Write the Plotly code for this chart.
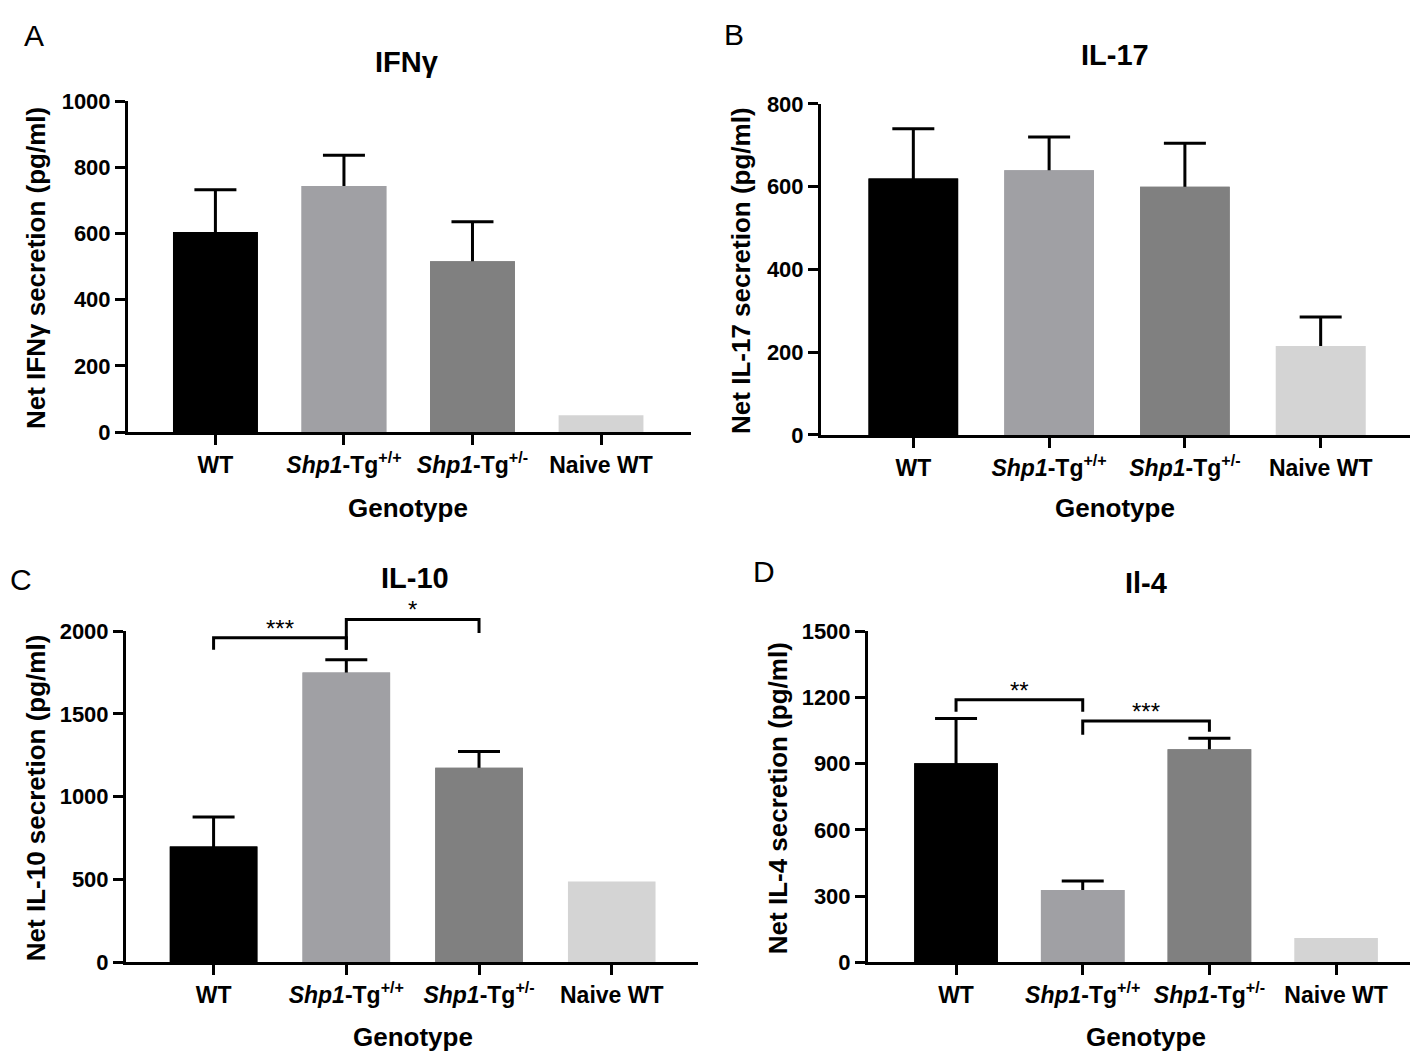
import plotly.graph_objects as go

W, H = 1418, 1060

categories = ["WT", "Shp1-Tg+/+", "Shp1-Tg+/-", "Naive WT"]
tick_labels = ["WT", "<i>Shp1</i>-Tg<sup>+/+</sup>", "<i>Shp1</i>-Tg<sup>+/-</sup>", "Naive WT"]
bar_colors = ["#000000", "#a0a0a4", "#808080", "#d4d4d4"]

ifng_mean = [604, 743, 516, 51]
ifng_sem = [128, 93, 119, None]

il17_mean = [620, 640, 600, 215]
il17_sem = [120, 80, 105, 70]

il10_mean = [700, 1750, 1175, 488]
il10_sem = [178, 77, 98, None]

il4_mean = [902, 327, 965, 110]
il4_sem = [203, 41, 50, None]

# significance brackets: (from index, to index, bracket height, leg end at from, leg end at to, label)
il10_sig = [(0, 1, 1960, 1888, 1888, "***"), (1, 2, 2071, 1888, 1990, "*")]
il4_sig = [(0, 1, 1190, 1135, 1135, "**"), (1, 2, 1093, 1031, 1044, "***")]

FONT = "Liberation Sans, Arial, sans-serif"

panels = [
    dict(letter="A", title="IFN\u03b3", ytitle="Net IFN\u03b3 secretion (pg/ml)", mean=ifng_mean, sem=ifng_sem,
         yrange=[0, 1000], dtick=200, px=(120, 683), py=(422, 83), xr=[-0.68, 3.70], sig=[],
         letter_xy=(26, 16), title_xy=(399, 43), ytitle_xy=(28, 254), gen_xy=(400, 500)),
    dict(letter="B", title="IL-17", ytitle="Net IL-17 secretion (pg/ml)", mean=il17_mean, sem=il17_sem,
         yrange=[0, 800], dtick=200, px=(813, 1405), py=(425, 86), xr=[-0.68, 3.68], sig=[],
         letter_xy=(726, 15), title_xy=(1107, 36), ytitle_xy=(733, 257), gen_xy=(1107, 500)),
    dict(letter="C", title="IL-10", ytitle="Net IL-10 secretion (pg/ml)", mean=il10_mean, sem=il10_sem,
         yrange=[0, 2000], dtick=500, px=(118, 690), py=(965, 626), xr=[-0.66, 3.65], sig=il10_sig,
         letter_xy=(13, 573), title_xy=(407, 571), ytitle_xy=(28, 797), gen_xy=(405, 1042)),
    dict(letter="D", title="Il-4", ytitle="Net IL-4 secretion (pg/ml)", mean=il4_mean, sem=il4_sem,
         yrange=[0, 1500], dtick=300, px=(860, 1415), py=(965, 626), xr=[-0.695, 3.686], sig=il4_sig,
         letter_xy=(756, 565), title_xy=(1138, 577), ytitle_xy=(770, 797), gen_xy=(1138, 1042)),
]

fig = go.Figure()
annotations = []
layout = {}
EXT_PX = 60  # extra headroom (px) for significance brackets above the axis top

for k, p in enumerate(panels):
    n = "" if k == 0 else str(k + 1)
    xa, ya = "x" + n, "y" + n
    xdom = [p["px"][0] / W, p["px"][1] / W]
    ydom = [1 - p["py"][0] / H, 1 - p["py"][1] / H]
    axis_common = dict(showline=True, linecolor="black", linewidth=3, ticks="outside", ticklen=10,
                       tickwidth=3, tickcolor="black", showgrid=False, zeroline=False)
    layout["xaxis" + n] = dict(
        domain=xdom, anchor=ya, type="category", range=p["xr"],
        categoryorder="array", categoryarray=categories,
        tickmode="array", tickvals=categories, ticktext=tick_labels,
        tickfont=dict(family=FONT, size=23, color="black", weight="bold"), **axis_common,
    )
    layout["yaxis" + n] = dict(
        domain=ydom, anchor=xa, range=p["yrange"], dtick=p["dtick"], tick0=0,
        tickfont=dict(family=FONT, size=22, color="black", weight="bold"), **axis_common,
    )
    sem = p["sem"]
    mean = p["mean"]
    err_idx = [i for i, s in enumerate(sem) if s is not None]
    # bars carrying the error bars (stem runs down to the baseline, hidden by the covering bars)
    fig.add_trace(go.Bar(
        x=[categories[i] for i in err_idx], y=[mean[i] for i in err_idx], xaxis=xa, yaxis=ya, width=0.66,
        marker=dict(color=[bar_colors[i] for i in err_idx], line=dict(width=0)),
        error_y=dict(type="data", symmetric=False, array=[sem[i] for i in err_idx],
                     arrayminus=[mean[i] for i in err_idx], color="black", thickness=3, width=21),
        showlegend=False, hoverinfo="skip",
    ))
    fig.add_trace(go.Bar(
        x=categories, y=mean, xaxis=xa, yaxis=ya, width=0.66,
        marker=dict(color=bar_colors, line=dict(width=0)),
        showlegend=False,
    ))
    if p["sig"]:
        # hidden axis with the same scale but extra headroom so brackets are not clipped
        ne = str(k + 5)
        h = p["py"][0] - p["py"][1]
        ext_top = min(1.0, ydom[1] + EXT_PX / H)
        ext_max = p["yrange"][1] * (h + EXT_PX) / h
        layout["yaxis" + ne] = dict(domain=[ydom[0], ext_top], anchor=xa, range=[0, ext_max], visible=False)
        ye = "y" + ne
        for (i, j, ytop, yli, ylj, lab) in p["sig"]:
            fig.add_trace(go.Scatter(
                x=[categories[i], categories[i], categories[j], categories[j]],
                y=[yli, ytop, ytop, ylj], xaxis=xa, yaxis=ye, mode="lines",
                line=dict(color="black", width=3), showlegend=False, hoverinfo="skip",
            ))
            annotations.append(dict(
                x=(i + j) / 2, y=ytop, xref=xa, yref=ye, text=lab, showarrow=False,
                yanchor="bottom", yshift=-6, font=dict(family=FONT, size=24, color="black"),
            ))

    def pap(xy):
        return xy[0] / W, 1 - xy[1] / H

    lx, ly = pap(p["letter_xy"])
    annotations.append(dict(x=lx, y=ly, xref="paper", yref="paper", text=p["letter"], showarrow=False,
                            xanchor="center", yanchor="middle", font=dict(family=FONT, size=30, color="black")))
    tx, ty = pap(p["title_xy"])
    annotations.append(dict(x=tx, y=ty, xref="paper", yref="paper", text="<b>" + p["title"] + "</b>",
                            showarrow=False, xanchor="center", yanchor="middle",
                            font=dict(family=FONT, size=29, color="black")))
    yx, yy = pap(p["ytitle_xy"])
    annotations.append(dict(x=yx, y=yy, xref="paper", yref="paper", text="<b>" + p["ytitle"] + "</b>",
                            showarrow=False, textangle=-90, xanchor="center", yanchor="middle",
                            font=dict(family=FONT, size=26, color="black")))
    gx, gy = pap(p["gen_xy"])
    annotations.append(dict(x=gx, y=gy, xref="paper", yref="paper", text="<b>Genotype</b>", showarrow=False,
                            xanchor="center", yanchor="middle", font=dict(family=FONT, size=26, color="black")))

fig.update_layout(
    width=W, height=H, margin=dict(l=0, r=0, t=0, b=0),
    paper_bgcolor="white", plot_bgcolor="rgba(0,0,0,0)", barmode="overlay",
    annotations=annotations, showlegend=False, **layout,
)

fig.write_html("out.html")
